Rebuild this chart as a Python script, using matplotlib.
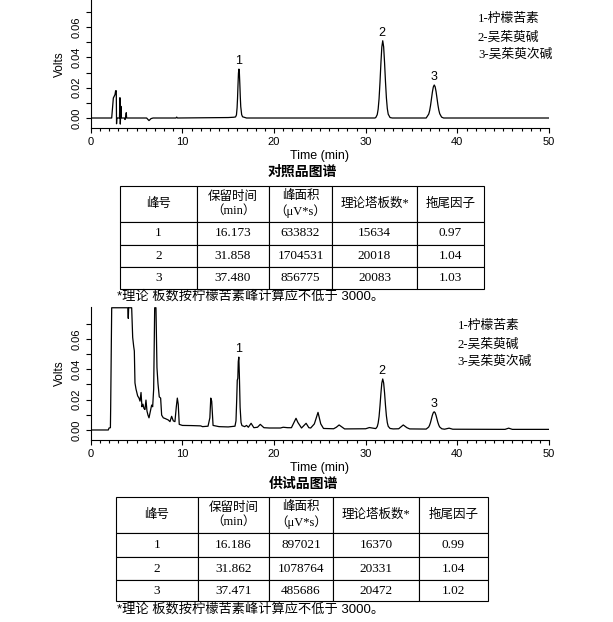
import matplotlib
matplotlib.use('Agg')
import matplotlib.pyplot as plt

plt.rcParams['font.family'] = ['Liberation Sans', 'Noto Sans CJK SC']

# 对照品图谱 (time in min, signal in V)
ref_time = [0.0, 2.29, 2.47, 2.65, 2.72, 2.79, 2.82, 2.85, 3.14, 3.19, 3.23, 3.30, 3.34, 3.70, 3.74, 3.80, 3.88, 3.92,
            6.10, 6.36, 6.58, 6.80, 9.30, 9.38, 9.46, 15.0, 15.6,
            15.80, 15.90, 15.97, 16.02, 16.07, 16.12, 16.17, 16.22, 16.27, 16.32, 16.37, 16.47, 16.57, 17.0,
            31.0, 31.10, 31.26, 31.36, 31.46, 31.56, 31.66, 31.76, 31.86, 31.96, 32.06, 32.16, 32.26, 32.36, 32.46, 32.66, 32.9,
            36.6, 36.88, 36.98, 37.08, 37.18, 37.28, 37.38, 37.48, 37.58, 37.68, 37.78, 37.88, 37.98, 38.08, 38.28, 38.5, 50.0]
ref_volts = [0.0, 0.0, 0.0132, 0.0154, 0.018, 0.018, -0.0038, 0.0, 0.0, 0.0134, -0.004, 0.0077, 0.0, 0.0, -0.001, 0.0, 0.0035, 0.0,
             0.0, -0.0017, -0.0004, 0.0, 0.0, 0.0006, 0.0, 0.0003, 0.0005,
             0.0007, 0.002, 0.0067, 0.0131, 0.0218, 0.0296, 0.0323, 0.0298, 0.0225, 0.014, 0.0075, 0.0022, 0.0008, 0.0,
             0.0, 0.0003, 0.0022, 0.0058, 0.0127, 0.0234, 0.036, 0.0468, 0.051, 0.047, 0.0365, 0.024, 0.0133, 0.0062, 0.0025, 0.0003, 0.0,
             0.0, 0.0026, 0.0049, 0.0084, 0.0128, 0.0172, 0.0205, 0.0218, 0.0206, 0.0174, 0.0131, 0.0087, 0.0052, 0.0028, 0.0006, 0.0, 0.0]

# 供试品图谱
sample_time = [0.0, 1.92, 2.00, 2.15, 2.18, 2.29, 4.05, 4.10, 4.14, 4.47, 4.58, 4.69, 4.76, 4.83, 4.94,
               5.12, 5.27, 5.38, 5.49, 5.59, 5.70, 5.81, 5.92, 6.03, 6.14, 6.25, 6.36, 6.50, 6.65, 6.76, 6.87, 6.98,
               7.12, 7.23, 7.34, 7.48, 7.63, 7.74, 7.92, 8.10, 8.46, 8.65, 8.83, 9.01, 9.19, 9.34, 9.45, 9.55, 9.66,
               10.0, 11.0, 12.0, 12.2, 12.8, 13.0, 13.1, 13.2, 13.35, 14.0, 15.0, 15.74,
               15.85, 15.93, 15.99, 16.05, 16.10, 16.16, 16.22, 16.30, 16.40, 16.50, 16.8, 17.0, 17.2, 17.5, 17.8,
               18.2, 18.5, 18.9, 19.5, 20.7, 21.0, 21.5, 21.9, 22.4, 22.6, 23.0, 23.5, 23.8, 24.0, 24.4, 24.8,
               25.1, 25.4, 26.5, 26.8, 27.1, 27.4, 27.7, 30.0, 30.4, 30.8, 31.1,
               31.26, 31.36, 31.46, 31.56, 31.66, 31.76, 31.86, 31.96, 32.06, 32.16, 32.26, 32.36, 32.46, 32.66,
               33.0, 33.6, 34.1, 34.5, 34.8, 36.6,
               36.87, 36.97, 37.07, 37.17, 37.27, 37.37, 37.47, 37.57, 37.67, 37.77, 37.87, 37.97, 38.07, 38.3,
               38.6, 39.1, 39.5, 45.2, 45.6, 46.0, 50.0]
sample_volts = [0.0, 0.0, 0.0013, 0.0015, 0.0153, 0.0805, 0.0805, 0.0735, 0.0805, 0.0805, 0.061, 0.055, 0.052, 0.031, 0.027,
                0.0225, 0.021, 0.019, 0.0247, 0.0153, 0.017, 0.0142, 0.0135, 0.0197, 0.0125, 0.0098, 0.008, 0.012, 0.0164, 0.0153, 0.027, 0.0805,
                0.0805, 0.041, 0.0306, 0.0218, 0.021, 0.0098, 0.008, 0.0076, 0.0066, 0.0055, 0.009, 0.006, 0.0055, 0.0153, 0.021, 0.017, 0.0037,
                0.003, 0.0029, 0.0027, 0.0022, 0.0025, 0.008, 0.021, 0.019, 0.003, 0.0022, 0.002, 0.0025,
                0.006, 0.02, 0.0328, 0.034, 0.045, 0.048, 0.036, 0.015, 0.005, 0.0029, 0.0022, 0.003, 0.0018, 0.0044, 0.0015,
                0.0018, 0.0037, 0.0015, 0.0013, 0.0013, 0.0018, 0.0015, 0.0015, 0.0077, 0.005, 0.0013, 0.0044, 0.0015, 0.0013, 0.004, 0.0116,
                0.004, 0.001, 0.0008, 0.0018, 0.0033, 0.002, 0.0007, 0.0008, 0.0016, 0.0012, 0.0009,
                0.0022, 0.0045, 0.0088, 0.0158, 0.024, 0.0309, 0.0336, 0.031, 0.0245, 0.0162, 0.0093, 0.0048, 0.0024, 0.001,
                0.0007, 0.0008, 0.0033, 0.0015, 0.0007, 0.0006,
                0.0019, 0.0031, 0.0049, 0.0072, 0.0096, 0.0113, 0.012, 0.0114, 0.0097, 0.0074, 0.0051, 0.0033, 0.002, 0.0008,
                0.0005, 0.0012, 0.0005, 0.0004, 0.0012, 0.0004, 0.0004]

peak_no = ['1', '2', '3']
peak_names = ['1-柠檬苦素', '2-吴茱萸碱', '3-吴茱萸次碱']
header = ['峰号', '保留时间\n（min）', '峰面积\n（μV*s）', '理论塔板数*', '拖尾因子']

ref_rt = [16.173, 31.858, 37.480]
ref_area = [633832, 1704531, 856775]
ref_plates = [15634, 20018, 20083]
ref_tailing = [0.97, 1.04, 1.03]

sample_rt = [16.186, 31.862, 37.471]
sample_area = [897021, 1078764, 485686]
sample_plates = [16370, 20331, 20472]
sample_tailing = [0.99, 1.04, 1.02]

note = '*理论 板数按柠檬苦素峰计算应不低于 3000。'

W, H = 613, 622
fig = plt.figure(figsize=(W / 100, H / 100), dpi=100)
serif_cjk = ['Liberation Serif', 'Noto Sans CJK SC']


def px_rect(left, top, right, bottom):
    return [left / W, 1 - bottom / H, (right - left) / W, (bottom - top) / H]


def draw_chrom(rect, t, v, ytop, rt, leg_x, leg_y):
    ax = fig.add_axes(rect)
    ax.plot(t, v, color='black', lw=0.9)
    ax.set_xlim(0, 50)
    ax.set_ylim(-0.0066, ytop)
    ax.spines['top'].set_visible(False)
    ax.spines['right'].set_visible(False)
    for s in ['left', 'bottom']:
        ax.spines[s].set_linewidth(0.8)
    ax.set_xticks(range(0, 51, 10))
    ax.set_xticks(range(0, 51), minor=True)
    ax.set_yticks([0.0, 0.02, 0.04, 0.06])
    ax.set_yticks([0.01, 0.03, 0.05, 0.07], minor=True)
    ax.set_yticklabels(['0.00', '0.02', '0.04', '0.06'], rotation=90, va='center')
    ax.tick_params(which='both', direction='out', labelsize=8, width=0.8, pad=3)
    ax.tick_params(which='major', length=3.4)
    ax.tick_params(axis='x', which='minor', length=2.0)
    ax.tick_params(axis='y', which='minor', length=3.4)
    ax.set_xlabel('Time (min)', fontsize=9, va='top')
    ax.set_ylabel('Volts', fontsize=8.5)
    ax.xaxis.set_label_coords(0.5, -22 / (rect[3] * H))
    ax.yaxis.set_label_coords(-25 / (rect[2] * W), 0.5)
    # peak numbers above each peak
    for lab, r in zip(peak_no, rt):
        top = max(vv for tt, vv in zip(t, v) if abs(tt - r) < 0.3)
        ax.annotate(lab, (r - 0.05, top), xytext=(0, 1.5), textcoords='offset points',
                    ha='center', va='bottom', fontsize=9)
    for name, yy in zip(peak_names, leg_y):
        ax.text(leg_x, yy, name, transform=ax.transAxes, ha='left', va='center',
                fontsize=9.2, family=serif_cjk)
    return ax


def draw_table(rect, rt, area, plates, tailing, col_w, row_h):
    tax = fig.add_axes(rect)
    tax.axis('off')
    cells = [[n, f'{a:.3f}', str(b), str(c), f'{d:.2f}']
             for n, a, b, c, d in zip(peak_no, rt, area, plates, tailing)]
    tb = tax.table(cellText=cells, colLabels=header, colWidths=col_w,
                   cellLoc='center', bbox=[0, 0, 1, 1])
    tb.auto_set_font_size(False)
    for (r, c), cell in tb.get_celld().items():
        cell.set_height(row_h[r])
        cell.set_linewidth(0.8)
        cell.set_edgecolor('black')
        txt = cell.get_text()
        txt.set_fontfamily(serif_cjk)
        txt.set_fontsize(9 if r == 0 else 9.5)
        txt.set_linespacing(1.2)
    return tb


# top: reference standard
draw_chrom(px_rect(90.7, 0, 549, 128), ref_time, ref_volts, 0.0779, ref_rt,
           0.845, [0.852, 0.703, 0.570])
fig.text(302 / W, 1 - 172 / H, '对照品图谱', ha='center', va='center',
         fontsize=10, fontweight='bold')
draw_table(px_rect(120, 186, 484, 289), ref_rt, ref_area, ref_plates, ref_tailing,
           [77, 72, 63, 85, 67], [36, 23, 22, 22])
fig.text(117 / W, 1 - 296 / H, note, ha='left', va='center', fontsize=9.5)

# bottom: test sample
draw_chrom(px_rect(90.7, 307, 549, 440), sample_time, sample_volts, 0.081, sample_rt,
           0.801, [0.857, 0.714, 0.586])
fig.text(303 / W, 1 - 484 / H, '供试品图谱', ha='center', va='center',
         fontsize=10, fontweight='bold')
draw_table(px_rect(116, 497, 488, 601), sample_rt, sample_area, sample_plates, sample_tailing,
           [82, 71, 64, 86, 69], [36, 24, 23, 21])
fig.text(117 / W, 1 - 609 / H, note, ha='left', va='center', fontsize=9.5)

fig.savefig('out.png', dpi=100)
